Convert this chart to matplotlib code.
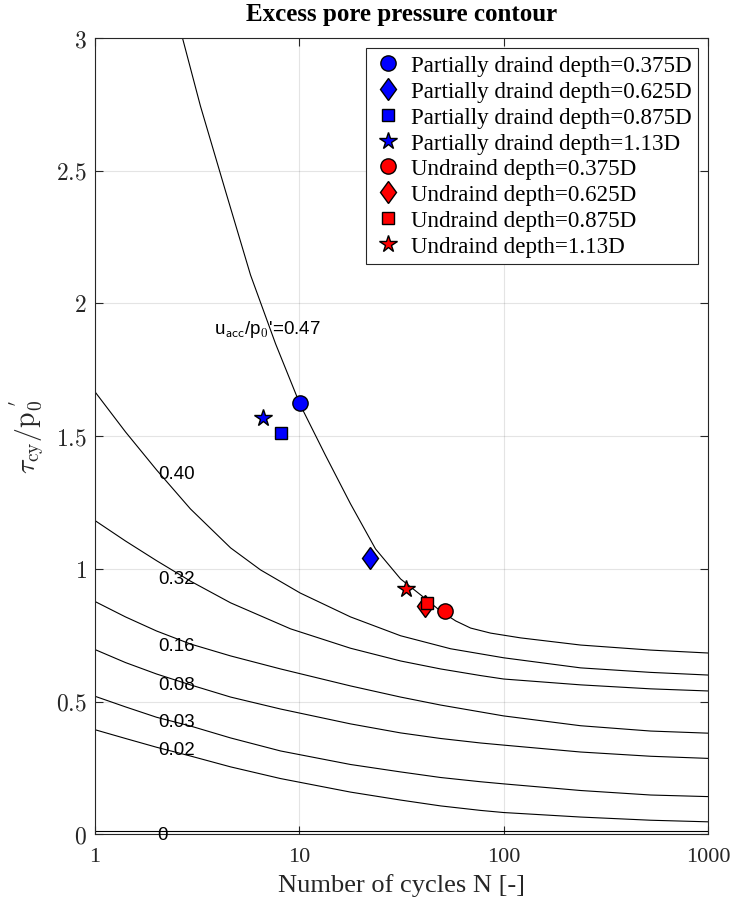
import matplotlib
matplotlib.use("Agg")
import matplotlib.pyplot as plt
from matplotlib.markers import MarkerStyle
from matplotlib.transforms import Affine2D

plt.rcParams['font.family'] = 'Liberation Serif'
plt.rcParams['mathtext.fontset'] = 'cm'

# ---- contour lines of u_acc/p0': (N, tau_cy/p0') ----
n_047 = [2.68, 3.28, 4.35, 5.77, 7.65, 10.1, 13.4, 17.8, 23.6, 31.3, 41.5, 49.1, 58.2, 68.9, 86.3, 121, 238, 524, 1000]
y_047 = [3.0, 2.744, 2.424, 2.107, 1.848, 1.618, 1.429, 1.245, 1.075, 0.962, 0.887, 0.841, 0.804, 0.777, 0.758, 0.740, 0.713, 0.694, 0.683]

n_040 = [1, 1.41, 2.0, 2.93, 4.61, 6.46, 10.1, 17.8, 31.3, 55.0, 100, 238, 524, 1000]
y_040 = [1.667, 1.516, 1.373, 1.226, 1.079, 0.996, 0.909, 0.819, 0.748, 0.699, 0.665, 0.627, 0.610, 0.600]

n_032 = [1, 1.41, 2.0, 2.93, 4.61, 9.06, 17.8, 31.3, 49.1, 77.1, 100, 238, 524, 1000]
y_032 = [1.182, 1.105, 1.031, 0.954, 0.872, 0.774, 0.701, 0.653, 0.623, 0.598, 0.585, 0.563, 0.548, 0.540]

n_common = [1, 1.41, 2.0, 2.93, 4.61, 8.09, 17.8, 31.3, 49.1, 77.1, 100, 238, 524, 1000]
y_016 = [0.877, 0.819, 0.766, 0.717, 0.672, 0.623, 0.559, 0.517, 0.487, 0.461, 0.446, 0.409, 0.389, 0.381]
y_008 = [0.696, 0.647, 0.604, 0.563, 0.517, 0.472, 0.416, 0.382, 0.361, 0.344, 0.336, 0.310, 0.294, 0.286]
y_003 = [0.520, 0.480, 0.441, 0.408, 0.363, 0.314, 0.263, 0.235, 0.214, 0.198, 0.190, 0.165, 0.148, 0.142]
y_002 = [0.394, 0.361, 0.328, 0.295, 0.254, 0.210, 0.159, 0.129, 0.107, 0.090, 0.082, 0.065, 0.053, 0.047]

n_000 = [1, 1000]
y_000 = [0.012, 0.012]

contour_n = [n_047, n_040, n_032, n_common, n_common, n_common, n_common, n_000]
contour_y = [y_047, y_040, y_032, y_016, y_008, y_003, y_002, y_000]
contour_labels = ["0.40", "0.32", "0.16", "0.08", "0.03", "0.02", "0"]

# ---- test points ----
depths = ["0.375D", "0.625D", "0.875D", "1.13D"]
pd_n = [10.1, 22.1, 8.15, 6.66]
pd_y = [1.625, 1.040, 1.511, 1.569]
ud_n = [51.4, 41.1, 42.3, 33.1]
ud_y = [0.843, 0.861, 0.871, 0.924]

diamond = MarkerStyle('D', transform=Affine2D().scale(0.72, 1.0))
marker_styles = ['o', diamond, 's', '*']
marker_sizes = [11, 11, 9, 13]

fig = plt.figure(figsize=(7.36, 9.12), dpi=100)
ax = fig.add_axes([95/736, 1 - 835.3/912, 613/736, 796.3/912])

for n, y in zip(contour_n, contour_y):
    ax.plot(n, y, color='black', lw=0.8)

# contour labels
lab_y = [1.36, 0.965, 0.711, 0.566, 0.424, 0.321, 0.0]
for txt, yy in zip(contour_labels, lab_y):
    xx = 2.13 if txt == "0" else 2.51
    ax.text(xx, yy, txt, family='Liberation Sans', fontsize=13.5,
            ha='center', va='center', clip_on=False)
ax.text(6.97, 1.905, r"u$_{\mathsf{acc}}$/p$_{\mathsf{0}}$'=0.47", family='Liberation Sans',
        fontsize=13.5, ha='center', va='center')

for i in range(4):
    ax.plot(pd_n[i], pd_y[i], ls='none', marker=marker_styles[i], ms=marker_sizes[i],
            mfc='blue', mec='black', mew=1.0, label='Partially draind depth=' + depths[i])
for i in range(4):
    ax.plot(ud_n[i], ud_y[i], ls='none', marker=marker_styles[i], ms=marker_sizes[i],
            mfc='red', mec='black', mew=1.0, label='Undraind depth=' + depths[i])

ax.set_xscale('log')
ax.set_xlim(1, 1000)
ax.set_ylim(0, 3)
ax.set_xticks([1, 10, 100, 1000])
ax.set_xticklabels(['1', '10', '100', '1000'])
ax.xaxis.set_minor_locator(matplotlib.ticker.NullLocator())
ax.set_yticks([0, 0.5, 1, 1.5, 2, 2.5, 3])
ax.set_yticklabels(['$0$', '$0.5$', '$1$', '$1.5$', '$2$', '$2.5$', '$3$'])

ax.tick_params(direction='in', length=6, width=0.8, colors='#262626', top=True, right=True)
ax.tick_params(axis='x', labelsize=16, pad=9, labelcolor='#262626')
ax.tick_params(axis='y', labelsize=17, pad=6, labelcolor='#262626')
for s in ax.spines.values():
    s.set_color('#262626')
    s.set_linewidth(0.8)
ax.grid(True, color='#262626', alpha=0.12, lw=0.8)
ax.set_axisbelow(True)

ax.set_xlabel('Number of cycles N [-]', fontsize=19, color='#262626', labelpad=5)
ax.set_ylabel(r"$\tau_{\mathrm{cy}}/\mathrm{p}_0^{\;'}$", fontsize=20, color='#262626', labelpad=6)
ax.set_title('Excess pore pressure contour', fontsize=18, fontweight='bold', pad=13)

leg = ax.legend(loc='upper right', bbox_to_anchor=(0.984, 0.987), borderaxespad=0,
                fontsize=16.6, numpoints=1, handlelength=1.3, handletextpad=0.35,
                borderpad=0.3, labelspacing=0.2, fancybox=False, framealpha=1)
leg.get_frame().set_edgecolor('#262626')
leg.get_frame().set_linewidth(0.8)

fig.savefig('out.png', dpi=100)
